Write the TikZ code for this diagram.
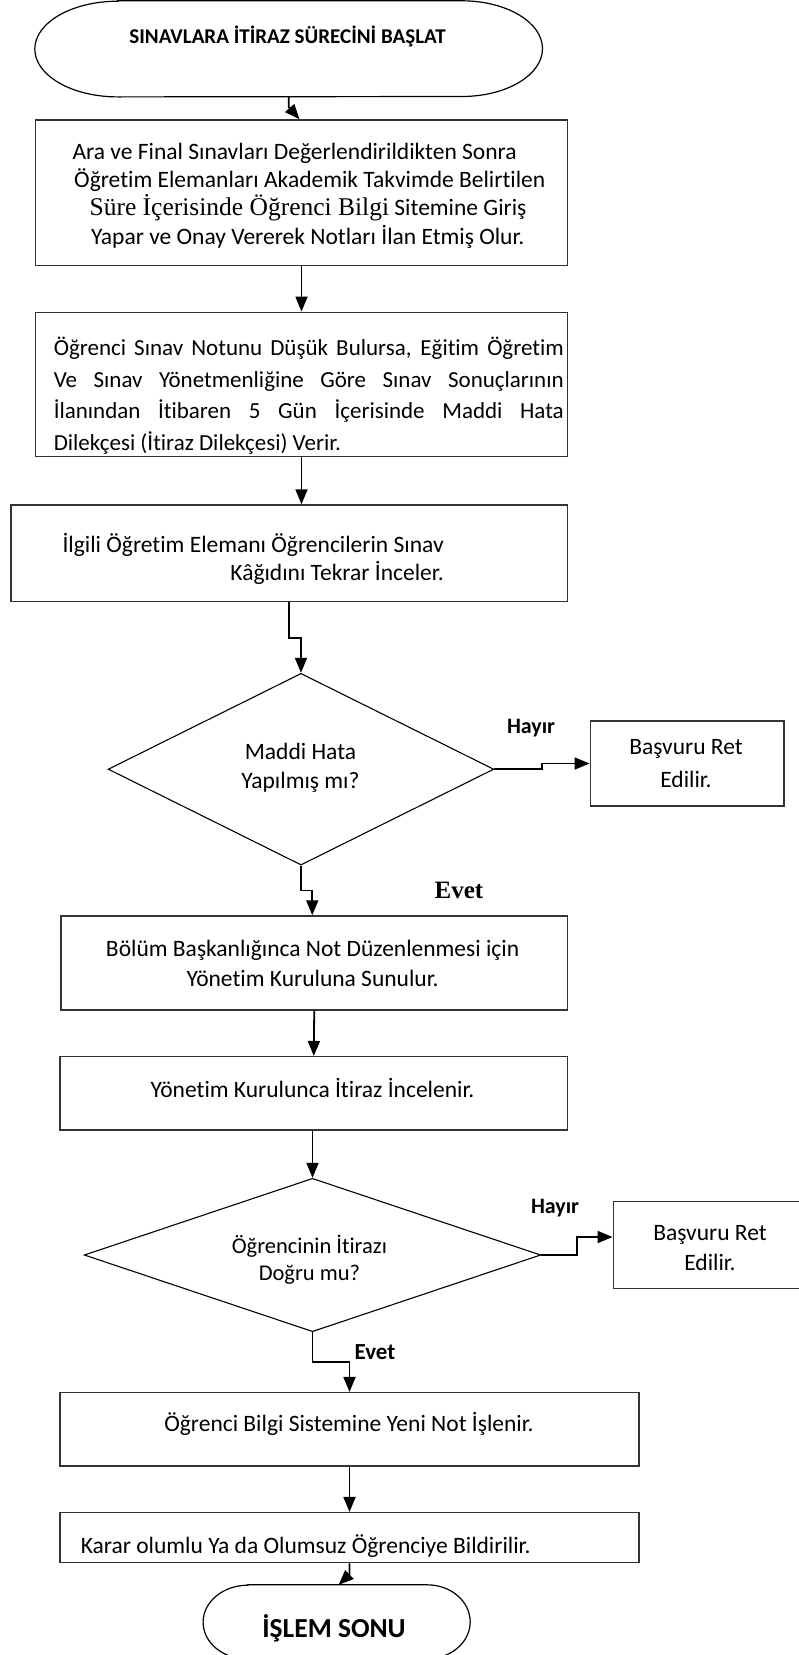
\documentclass[tikz,border=0pt]{standalone}
\usepackage{fontspec}
\setmainfont{Carlito}[Ligatures=NoCommon]
\newfontfamily\timesfont{Liberation Serif}
\usetikzlibrary{arrows.meta,shapes.geometric,calc}

\begin{document}
\begin{tikzpicture}[x=1pt,y=-1pt,
  box/.style={draw=black!80, line width=1.5pt, rectangle, inner sep=0pt},
  dia/.style={draw=black, line width=1.1pt, diamond, inner sep=0pt},
  term/.style={draw=black, line width=1.2pt},
  arr/.style={line width=1.8pt, -{Triangle[length=15pt,width=12pt]}},
  txt/.style={inner sep=0pt, font=\fontsize{23.5}{28.3}\selectfont},
  lbl/.style={inner sep=0pt, font=\bfseries\fontsize{22}{26}\selectfont},
]
\useasboundingbox (0,0) rectangle (799,1655);

% start terminal
\node[inner sep=0pt, minimum width=507.3pt, minimum height=95.7pt] (start) at (288.65,48.85) {};
\draw[term] ([xshift=83pt]start.north west) -- ([xshift=-80.6pt]start.north east)
  arc[start angle=90, end angle=-90, x radius=80.6pt, y radius=47.85pt]
  -- ([xshift=83pt]start.south west)
  arc[start angle=270, end angle=90, x radius=83pt, y radius=47.85pt] -- cycle;
\node[lbl, font=\bfseries\fontsize{21}{25}\selectfont] (tstart) at (287.5,36.7) {SINAVLARA İTİRAZ SÜRECİNİ BAŞLAT};

% process boxes
\node[box, minimum width=531.6pt, minimum height=145.7pt] (b1) at (301.5,192.85) {};
\node[box, minimum width=531.6pt, minimum height=144.4pt] (b2) at (301.5,384.5) {};
\node[box, minimum width=556.1pt, minimum height=96.7pt] (b3) at (289.25,553.35) {};
\node[box, minimum width=506.1pt, minimum height=94pt] (b4) at (314.25,963) {};
\node[box, minimum width=507.1pt, minimum height=73.3pt] (b5) at (313.75,1093.35) {};
\node[box, minimum width=578.6pt, minimum height=73.3pt] (b6) at (349.5,1429.35) {};
\node[box, minimum width=578.6pt, minimum height=50pt] (b7) at (349.5,1537.7) {};
\node[box, minimum width=193.9pt, minimum height=85pt] (r1) at (687.25,763.5) {};
\node[box, minimum width=187.7pt, minimum height=86.6pt] (r2) at (707.15,1245) {};

% decisions
\node[dia, minimum width=385.7pt, minimum height=191.7pt] (d1) at (301,769.2) {};
\node[dia, minimum width=456.6pt, minimum height=153.4pt] (d2) at (312.5,1255) {};

% end terminal
\node[inner sep=0pt, minimum width=266.7pt, minimum height=74pt] (stop) at (336.65,1622) {};
\draw[term] ([xshift=44.7pt]stop.north west) -- ([xshift=-43pt]stop.north east)
  arc[start angle=90, end angle=-90, x radius=43pt, y radius=37pt]
  -- ([xshift=44.7pt]stop.south west)
  arc[start angle=270, end angle=90, x radius=44.7pt, y radius=37pt] -- cycle;
\node[lbl, font=\bfseries\fontsize{27.5}{32}\selectfont] (tstop) at (334,1628) {İŞLEM SONU};

% texts
\node[txt, anchor=west, align=left] (t1) at (72.4,195.5)
  {Ara ve Final Sınavları Değerlendirildikten Sonra\\
   \hspace*{1.6pt}Öğretim Elemanları Akademik Takvimde Belirtilen\\
   \hspace*{17pt}{\timesfont\fontsize{25.5}{28.3}\selectfont Süre İçerisinde Öğrenci Bilgi} Sitemine Giriş\\
   \hspace*{18.4pt}Yapar ve Onay Vererek Notları İlan Etmiş Olur.};
\node[txt, font=\fontsize{23}{31.7}\selectfont, anchor=west, align=left] (t2) at (53.6,395.8)
  {\makebox[510pt][s]{Öğrenci Sınav Notunu Düşük Bulursa, Eğitim Öğretim}\\
   \makebox[510pt][s]{Ve Sınav Yönetmenliğine Göre Sınav Sonuçlarının}\\
   \makebox[510pt][s]{İlanından İtibaren 5 Gün İçerisinde Maddi Hata}\\
   Dilekçesi (İtiraz Dilekçesi) Verir.};
\node[txt, anchor=east, align=right] (t3) at (443.9,559.2)
  {İlgili Öğretim Elemanı Öğrencilerin Sınav\\ Kâğıdını Tekrar İnceler.};
\node[txt, align=center, font=\fontsize{23.5}{29.4}\selectfont] (td1) at (300.5,768) {Maddi Hata\\ Yapılmış mı?};
\node[lbl] (h1) at (531,728.3) {Hayır};
\node[txt, align=center, font=\fontsize{23.5}{33.3}\selectfont] (tr1) at (686,763.3) {Başvuru Ret\\ Edilir.};
\node[inner sep=0pt, font=\timesfont\bfseries\fontsize{25}{30}\selectfont] (e1) at (459,890) {Evet};
\node[txt, align=center, font=\fontsize{23.5}{30}\selectfont] (t4) at (312.6,963.3)
  {Bölüm Başkanlığınca Not Düzenlenmesi için\\ Yönetim Kuruluna Sunulur.};
\node[txt] (t5) at (312.5,1088.3) {Yönetim Kurulunca İtiraz İncelenir.};
\node[txt, align=center, font=\fontsize{22.5}{26.7}\selectfont] (td2) at (309.4,1260) {Öğrencinin İtirazı\\ Doğru mu?};
\node[lbl] (h2) at (555,1208.3) {Hayır};
\node[txt, align=center, font=\fontsize{23.5}{30.6}\selectfont] (tr2) at (710,1248) {Başvuru Ret\\ Edilir.};
\node[lbl, font=\bfseries\fontsize{23}{27}\selectfont] (e2) at (375,1352.3) {Evet};
\node[txt] (t6) at (349,1424) {Öğrenci Bilgi Sistemine Yeni Not İşlenir.};
\node[txt, anchor=west] (t7) at (80.6,1546) {Karar olumlu Ya da Olumsuz Öğrenciye Bildirilir.};

% connectors
\draw[arr] (start.south) -- ++(0,10) -- ([xshift=-2pt]b1.north);
\draw[arr] (b1.south) -- (b2.north);
\draw[arr] (b2.south) -- (b2.south |- b3.north);
\draw[arr] (b3.south) |- ($(b3.south)!0.5!(d1.north)$) -| (d1.north);
\draw[arr] (d1.east) -| ($(d1.east)!0.5!(r1.west)$) |- (r1.west);
\draw[arr] (d1.south) |- ($(d1.south)!0.5!([xshift=-2pt]b4.north)$) -| ([xshift=-2pt]b4.north);
\draw[arr] (b4.south) -- (b5.north);
\draw[arr] (d2.north |- b5.south) -- (d2.north);
\draw[arr] (d2.east) -| ($(d2.east)!0.5!([yshift=8pt]r2.west)$) |- ([yshift=8pt]r2.west);
\draw[arr] (d2.south) |- ($(d2.south)!0.5!(b6.north)$) -| (b6.north);
\draw[arr] (b6.south) -- (b7.north);
\draw[arr] (b7.south) -- ++(0,11) -- ([xshift=2pt]stop.north);
\end{tikzpicture}
\end{document}
